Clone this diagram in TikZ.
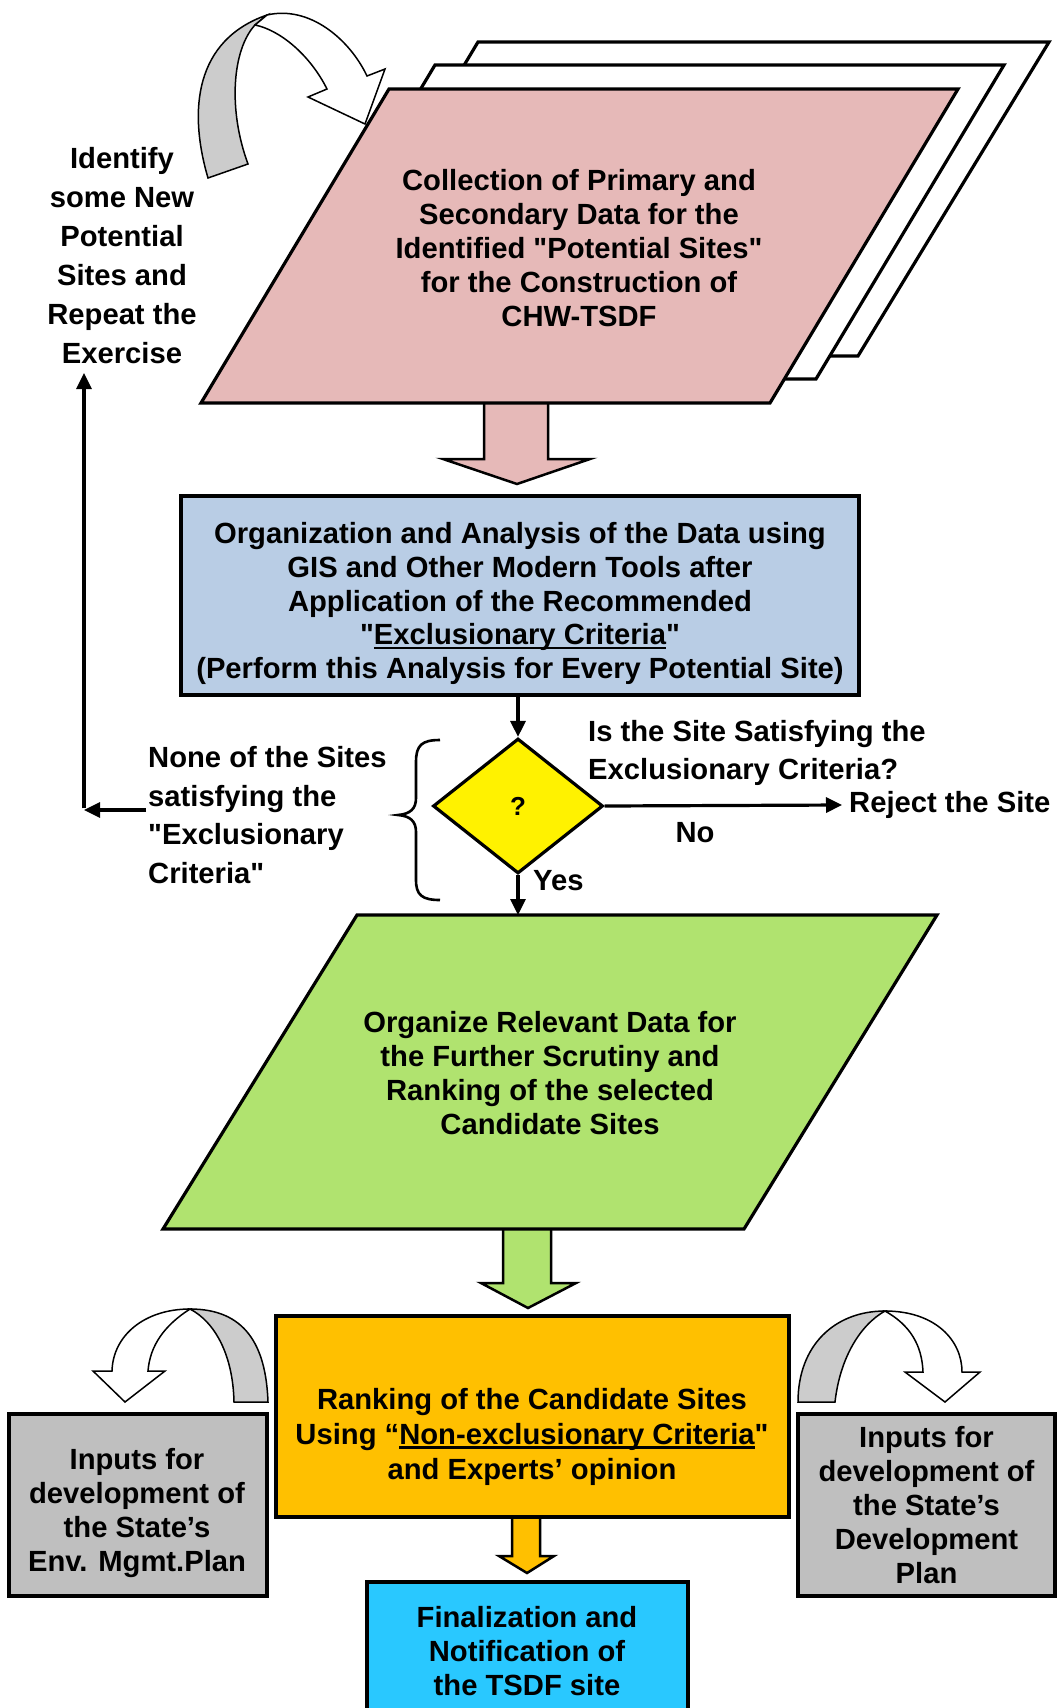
\documentclass[tikz,border=0pt]{standalone}
\usepackage{fontspec}
\setmainfont{Liberation Sans}[Ligatures=TeXOff]
\usetikzlibrary{arrows.meta,shapes.geometric}
\definecolor{pinkC}{RGB}{230,185,184}
\definecolor{blueC}{RGB}{185,205,229}
\definecolor{greenC}{RGB}{176,227,111}
\definecolor{orangeC}{RGB}{255,192,0}
\definecolor{cyanC}{RGB}{41,200,255}
\definecolor{grayC}{RGB}{191,191,191}
\definecolor{ribbonC}{RGB}{204,204,204}
\newcommand\myul[1]{\setbox0=\hbox{#1}\rlap{\rule[-4.5pt]{\wd0}{2.8pt}}\box0}
\begin{document}
\begin{tikzpicture}[x=1pt,y=-1pt,
  txt/.style={font=\fontsize{29.2}{33.8}\selectfont\bfseries, align=center, inner sep=0pt},
  ltxt/.style={font=\fontsize{29.2}{38.8}\selectfont\bfseries, align=left, inner sep=0pt, anchor=west},
  box/.style={draw, line width=3.5pt, inner sep=0pt},
  shape border/.style={draw, line width=3.2pt, line join=miter},
  blockarr/.style={draw, line width=2.5pt, line join=miter},
  ribbon/.style={draw, line width=1.5pt},
  arr/.style={line width=3.2pt, -{Triangle[length=16pt,width=15pt]}}]
\useasboundingbox (0,0) rectangle (1057,1708);

% top ribbon arrow
\filldraw[ribbon, fill=ribbonC] (208,178) .. controls (188,110) and (195,40) .. (267,15) -- (255,25) .. controls (232,50) and (228,110) .. (248,164) -- cycle;
\filldraw[ribbon, fill=white] (267,15) .. controls (310,5) and (350,40) .. (367,76) -- (385,69) -- (365,124) -- (308,97) -- (327,89) .. controls (310,55) and (280,30) .. (255,25) -- cycle;

% stacked parallelograms
\filldraw[shape border, fill=white] (478,42) -- (1049,42) -- (858,356) -- (290,356) -- cycle;
\filldraw[shape border, fill=white] (435,65) -- (1004,65) -- (816,379) -- (247,379) -- cycle;
\filldraw[blockarr, fill=pinkC] (484,398) -- (484,459) -- (443,459) -- (517,484) -- (590,459) -- (548,459) -- (548,398) -- cycle;
\filldraw[shape border, fill=pinkC] (389,89) -- (958,89) -- (770,403) -- (201,403) -- cycle;
\node[txt] (collect) at (579,248) {Collection of Primary and\\Secondary Data for the\\Identified "Potential Sites"\\for the Construction of\\CHW-TSDF};

% left loop text
\node[txt, font=\fontsize{29.2}{39}\selectfont\bfseries] (identify) at (122,256) {Identify\\some New\\Potential\\Sites and\\Repeat the\\Exercise};

% blue box
\node[box, line width=3.2pt, fill=blueC, minimum width=678pt, minimum height=199pt] (analysis) at (520,595.5) {};
\node[txt] (analysistxt) at (520,603.5) {Organization and Analysis of the Data using\\GIS and Other Modern Tools after\\Application of the Recommended\\"\myul{Exclusionary Criteria}"\\(Perform this Analysis for Every Potential Site)};

% diamond
\node[draw, line width=3.2pt, fill=yellow, shape=diamond, aspect=1.26, minimum width=170pt, minimum height=135pt, inner sep=0pt, font=\fontsize{26}{30}\selectfont\bfseries] (dia) at (518,806) {?};
\node[ltxt] (question) at (588,753) {Is the Site Satisfying the\\Exclusionary Criteria?};
\node[ltxt] (reject) at (849,805) {Reject the Site};
\node[txt] (no) at (695,833) {No};
\node[txt, anchor=west] (yes) at (533,881) {Yes};
\node[ltxt, font=\fontsize{29.2}{38.5}\selectfont\bfseries] (none) at (148,815) {None of the Sites\\satisfying the\\"Exclusionary\\Criteria"};

% brace
\draw[line width=2.6pt] (440,740) .. controls (422,740) and (416,745) .. (416,762) -- (416,798) .. controls (416,809) and (410,814) .. (398,815) .. controls (410,816) and (416,821) .. (416,832) -- (416,880) .. controls (416,895) and (422,900) .. (440,900);

% connectors
\coordinate (corner) at (84,810);
\coordinate (idtip) at (84,373);
\coordinate (gtop) at (518,915);
\draw[arr] (dia.north |- analysis.south) -- (dia.north);
\draw[arr] (dia.south) -- (gtop);
\draw[arr] (dia.east) -- ([xshift=-7pt]reject.west);
\draw[arr] ([xshift=-2pt]none.west |- corner) -- (corner);
\draw[arr] ([yshift=1.6pt]corner) -- (idtip);

% green
\filldraw[blockarr, fill=greenC] (503,1222) -- (503,1283) -- (481,1283) -- (528,1308) -- (576,1283) -- (551,1283) -- (551,1222) -- cycle;
\filldraw[shape border, fill=greenC] (357,915) -- (937,915) -- (744,1229) -- (163,1229) -- cycle;
\node[txt] (organize) at (550,1073) {Organize Relevant Data for\\the Further Scrutiny and\\Ranking of the selected\\Candidate Sites};

% bottom ribbons
\filldraw[ribbon, fill=white] (190,1309) .. controls (145,1309) and (113,1335) .. (112,1371) -- (93,1371) -- (125,1402) -- (165,1371) -- (148,1371) .. controls (150,1345) and (165,1325) .. (190,1309) -- cycle;
\filldraw[ribbon, fill=ribbonC] (268,1402) .. controls (266,1345) and (245,1309) .. (190,1309) .. controls (215,1322) and (233,1355) .. (234,1402) -- cycle;
\filldraw[ribbon, fill=white] (885,1311) .. controls (935,1311) and (962,1340) .. (962,1372) -- (980,1372) -- (945,1402) -- (905,1372) -- (923,1372) .. controls (922,1345) and (910,1325) .. (885,1311) -- cycle;
\filldraw[ribbon, fill=ribbonC] (798,1402) .. controls (798,1345) and (835,1311) .. (885,1311) .. controls (860,1325) and (840,1358) .. (835,1402) -- cycle;

% orange
\filldraw[blockarr, fill=orangeC] (512,1510) -- (512,1556) -- (499,1556) -- (527,1573) -- (554,1556) -- (540,1556) -- (540,1510) -- cycle;
\node[box, fill=orangeC, minimum width=513pt, minimum height=201pt] (rank) at (532.5,1416.5) {};
\node[txt, font=\fontsize{29.2}{34.8}\selectfont\bfseries] (ranktxt) at (532,1437) {Ranking of the Candidate Sites\\Using “\myul{Non-exclusionary Criteria}"\\and Experts’ opinion};

% side boxes
\node[box, fill=grayC, minimum width=258pt, minimum height=182pt] (envplan) at (138,1505) {};
\node[txt, font=\fontsize{29.2}{34}\selectfont\bfseries] (envtxt) at (137,1513) {Inputs for\\development of\\the State’s\\Env. Mgmt.Plan};
\node[box, fill=grayC, minimum width=257pt, minimum height=182pt, txt, font=\fontsize{29.2}{33.8}\selectfont\bfseries] (devplan) at (926.5,1505) {Inputs for\\development of\\the State’s\\Development\\Plan};

% final box
\node[box, fill=cyanC, minimum width=321pt, minimum height=130pt] (final) at (527.5,1647) {};
\node[txt] (finaltxt) at (527,1651) {Finalization and\\Notification of\\the TSDF site};
\end{tikzpicture}
\end{document}
